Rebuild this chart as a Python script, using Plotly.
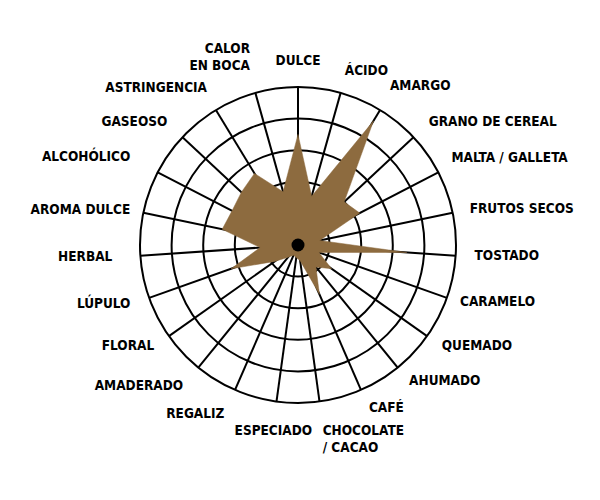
import plotly.graph_objects as go

# Flavour profile (scale 0-5)
categories = [
    "DULCE", "ÁCIDO", "AMARGO", "GRANO DE CEREAL", "MALTA / GALLETA",
    "FRUTOS SECOS", "TOSTADO", "CARAMELO", "QUEMADO", "AHUMADO", "CAFÉ",
    "CHOCOLATE<br>/ CACAO", "ESPECIADO", "REGALIZ", "AMADERADO", "FLORAL",
    "LÚPULO", "HERBAL", "AROMA DULCE", "ALCOHÓLICO", "GASEOSO",
    "ASTRINGENCIA", "CALOR<br>EN BOCA",
]
values = [
    3.5, 1.6, 4.6, 2.0, 2.2,
    0.7, 3.45, 0.7, 1.3, 0.9, 1.7,
    0.5, 0.4, 0.35, 0.5, 0.9,
    2.25, 1.2, 2.45, 2.35, 2.45,
    2.65, 1.75,
]

# where each category name sits outside the rim (same 0-5 scale)
label_r = [
    5.58, 5.49, 5.6, 5.66, 5.47,
    5.55, 5.6, 5.44, 5.57, 5.57, 5.63,
    5.73, 5.73, 5.85, 5.76, 5.57,
    5.63, 5.89, 5.42, 5.98, 5.66,
    5.54, 5.63,
]
label_pos = [
    "top center", "top right", "top right", "middle right", "top right",
    "middle right", "middle right", "middle right", "middle right", "middle right", "middle right",
    "bottom right", "bottom center", "middle left", "middle left", "middle left",
    "middle left", "middle left", "middle left", "middle left", "middle left",
    "top left", "top left",
]

W, H = 600, 500
CX, CY = 290, 237      # chart centre in figure pixels (from top-left)
R_CHART = 158          # radius of the outer ring
R_TEXT = min(CX, W - CX, CY, H - CY)   # bigger, invisible polar for the names


def domain(radius):
    return dict(x=[(CX - radius) / W, (CX + radius) / W],
                y=[(H - CY - radius) / H, (H - CY + radius) / H])


fig = go.Figure()

# filled profile
fig.add_trace(go.Scatterpolar(
    r=values + values[:1],
    theta=categories + categories[:1],
    mode="lines",
    fill="toself",
    fillcolor="#8d6b3f",
    line=dict(color="#8d6b3f", width=0.5),
    hoverinfo="skip",
))

# black hub in the middle
fig.add_trace(go.Scatterpolar(
    r=[0],
    theta=[categories[0]],
    mode="markers",
    marker=dict(color="black", size=13),
    hoverinfo="skip",
))

# category names on a second, hidden polar sharing the same centre
fig.add_trace(go.Scatterpolar(
    r=label_r,
    theta=categories,
    mode="text",
    text=categories,
    textposition=label_pos,
    textfont=dict(family="DejaVu Sans Condensed, Liberation Sans Narrow, sans-serif",
                  size=13.5, color="black", weight="bold"),
    subplot="polar2",
    hoverinfo="skip",
))

fig.update_layout(
    width=W,
    height=H,
    showlegend=False,
    paper_bgcolor="white",
    margin=dict(l=0, r=0, t=0, b=0),
    polar=dict(
        domain=domain(R_CHART),
        bgcolor="white",
        radialaxis=dict(
            range=[0, 5],
            dtick=1,
            showticklabels=False,
            ticks="",
            showline=False,
            gridcolor="black",
            gridwidth=1.8,
            layer="above traces",
        ),
        angularaxis=dict(
            direction="clockwise",
            rotation=90,
            showticklabels=False,
            ticks="",
            gridcolor="black",
            gridwidth=1.6,
            linecolor="black",
            linewidth=2,
            layer="above traces",
        ),
    ),
    polar2=dict(
        domain=domain(R_TEXT),
        bgcolor="rgba(0,0,0,0)",
        radialaxis=dict(range=[0, 5 * R_TEXT / R_CHART], visible=False),
        angularaxis=dict(direction="clockwise", rotation=90, visible=False),
    ),
)

fig.write_html("out.html")
